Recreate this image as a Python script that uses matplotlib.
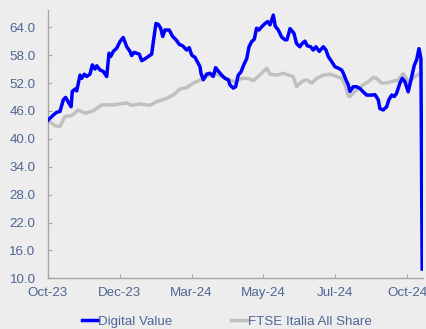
import matplotlib
matplotlib.use("Agg")
import matplotlib.pyplot as plt

# x positions are trading-day indices from the start of the period
tick_pos = [0, 52, 104, 156, 208, 260]
tick_labels = ["Oct-23", "Dec-23", "Mar-24", "May-24", "Jul-24", "Oct-24"]
y_ticks = [10.0, 16.0, 22.0, 28.0, 34.0, 40.0, 46.0, 52.0, 58.0, 64.0]

dv_x = [0, 3.8, 6.3, 8.7, 11.1, 12.8, 14.7, 16.7, 17.6, 19.6, 20.8, 23.2, 24.4, 26.3,
        28.0, 30.4, 32.1, 34.0, 35.3, 37.7, 40.0, 42.5, 44.2, 45.4, 47.3, 49.8, 52.1,
        54.5, 57.0, 59.4, 60.6, 62.3, 64.2, 66.1, 67.9, 70.2, 72.6, 75.1, 76.3, 78.2,
        79.9, 81.6, 83.1, 84.7, 87.8, 90.3, 92.7, 95.1, 97.5, 100.4, 102.3, 104.1,
        106.5, 108.1, 110.1, 110.8, 112.5, 114.9, 117.3, 119.7, 121.4, 123.8, 125.8,
        128.2, 130.6, 131.8, 134.2, 135.9, 137.8, 139.8, 142.2, 143.9, 145.6, 147.5,
        149.4, 151.1, 152.8, 154.8, 157.2, 159.1, 160.8, 163.2, 164.6, 166.8, 169.2,
        171.6, 173.1, 175.3, 178.1, 180.0, 182.4, 184.1, 186.1, 187.8, 190.2, 192.1,
        194.1, 196.5, 199.4, 201.3, 203.0, 205.5, 207.8, 210.2, 212.7, 213.9, 215.8,
        217.5, 218.7, 221.1, 223.6, 226.0, 228.3, 230.8, 234.4, 236.8, 239.2, 240.4,
        242.8, 245.3, 246.9, 248.9, 250.8, 252.5, 254.9, 256.6, 258.5, 260.9, 263.4,
        265.3, 267.0, 268.7, 270.1, 271.0]
dv_y = [44.0, 45.1, 45.7, 45.9, 48.4, 48.9, 47.9, 46.9, 50.2, 50.7, 50.3, 53.7, 53.0, 53.9,
        53.4, 53.9, 55.9, 55.0, 55.7, 54.8, 54.5, 53.4, 58.4, 57.7, 58.8, 59.5, 60.9,
        61.8, 59.8, 58.8, 57.9, 58.6, 58.4, 58.2, 56.8, 57.2, 57.7, 58.2, 60.9, 64.8,
        64.6, 63.8, 62.0, 63.4, 63.4, 62.0, 61.3, 60.3, 60.0, 59.1, 59.6, 58.0,
        57.5, 56.6, 55.5, 54.1, 52.7, 53.9, 54.1, 53.4, 55.3, 54.4, 53.7,
        53.0, 52.7, 51.6, 50.9, 51.2, 53.7, 54.4, 56.2, 57.2, 59.8, 60.9,
        61.4, 63.8, 63.4, 64.1, 64.8, 65.2, 64.5, 66.6, 64.2, 63.4, 61.9,
        61.3, 61.3, 63.7, 62.7, 60.5, 59.8, 60.5, 61.0, 60.0, 59.8, 59.1,
        59.8, 58.8, 59.8, 59.1, 57.7, 56.6, 55.5, 55.2, 54.8, 54.1, 52.7,
        51.6, 50.2, 51.2, 51.2, 50.8, 50.1, 49.4, 49.4, 49.5, 48.4, 46.5,
        46.2, 46.9, 48.4, 49.4, 49.1, 49.8, 52.0, 53.0, 52.3, 50.1, 53.4,
        55.8, 57.0, 59.4, 57.3, 12.0]

ftse_x = [0, 5.1, 8.7, 12.3, 17.2, 21.9, 26.8, 32.8, 38.9, 47.3, 57.0, 60.6, 66.6, 73.9,
          78.7, 86.0, 90.7, 95.6, 100.4, 105.2, 110.1, 114.9, 120.9, 125.8, 130.6,
          135.4, 140.3, 145.1, 148.7, 152.3, 158.4, 160.8, 165.6, 170.4, 174.0, 177.6,
          180.1, 183.7, 187.4, 191.0, 194.6, 199.4, 204.2, 209.1, 212.7, 215.1, 217.5,
          218.7, 221.1, 224.7, 228.3, 232.0, 235.6, 238.0, 241.7, 245.3, 248.9, 253.7,
          257.3, 260.9, 263.4, 265.8, 268.7, 271.0]
ftse_y = [44.0, 42.8, 42.7, 44.8, 45.0, 46.2, 45.5, 46.0, 47.3, 47.3, 47.7, 47.2, 47.5, 47.2,
          48.0, 48.7, 49.4, 50.7, 51.0, 52.0, 52.6, 53.4, 54.2, 53.4, 52.7,
          52.3, 53.0, 53.0, 52.5, 53.4, 55.2, 53.9, 53.7, 54.1, 53.7, 53.4,
          51.2, 52.3, 52.7, 52.0, 53.0, 53.7, 53.9, 53.4, 53.0, 51.6, 49.2,
          49.1, 49.8, 50.8, 51.6, 52.3, 53.2, 53.0, 52.0, 52.0, 52.3, 52.7,
          54.0, 52.3, 52.7, 53.4, 53.9, 53.9]

bg = "#EDEDED"
txt = "#4E6694"
plt.rcParams["font.family"] = ["Liberation Sans", "DejaVu Sans"]

fig = plt.figure(figsize=(4.27, 3.29), dpi=100, facecolor=bg)
ax = fig.add_axes([0.1124, 0.154, 0.8782, 0.8156], facecolor=bg)

ax.plot(ftse_x, ftse_y, color="#C0C0C0", lw=2.5, label="FTSE Italia All Share", zorder=2)
ax.plot(dv_x, dv_y, color="#0000FF", lw=2.5, label="Digital Value", zorder=3)

ax.set_xlim(0, 271.6)
ax.set_ylim(10, 67.7)
ax.set_xticks(tick_pos)
ax.set_xticklabels(tick_labels)
ax.set_yticks(y_ticks)
ax.set_yticklabels([f"{v:.1f}" for v in y_ticks])

for s in ["top", "right"]:
    ax.spines[s].set_visible(False)
for s in ["left", "bottom"]:
    ax.spines[s].set_color("#A6A6A6")
    ax.spines[s].set_linewidth(1.0)
ax.tick_params(axis="both", direction="in", length=3, color="#A6A6A6",
               labelsize=9.6, labelcolor=txt)
ax.tick_params(axis="y", pad=9)
ax.tick_params(axis="x", pad=6)

h, l = ax.get_legend_handles_labels()
leg = fig.legend(h[::-1], l[::-1], loc="center", bbox_to_anchor=(0.531, 0.022), ncol=2,
                 frameon=False, fontsize=9.6, handlelength=1.18, handletextpad=0.05,
                 columnspacing=4.4, labelcolor=txt, borderpad=0.2)
for lh in leg.get_lines():
    lh.set_linewidth(2.5)

fig.savefig("out.png", dpi=100, facecolor=bg)
